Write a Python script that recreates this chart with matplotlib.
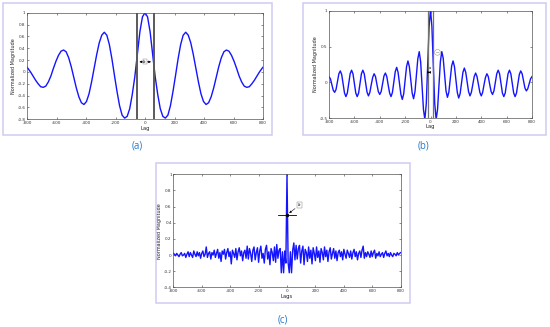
import numpy as np
import matplotlib
matplotlib.use('Agg')
import matplotlib.pyplot as plt
from matplotlib.patches import Rectangle

# ---------------- data ----------------
# panel (a): lag step 17.25
lag_idx_a = np.arange(-48, 49)
lag_step_a = 17.25
mag_a = [
    0.12, 0.11, 0.06, 0.00, -0.07, -0.14, -0.20, -0.25,
    -0.26, -0.24, -0.17, -0.07, 0.06, 0.18, 0.28, 0.35,
    0.37, 0.34, 0.24, 0.09, -0.09, -0.27, -0.42, -0.52,
    -0.55, -0.50, -0.37, -0.17, 0.06, 0.29, 0.49, 0.62,
    0.67, 0.62, 0.46, 0.22, -0.06, -0.33, -0.57, -0.73,
    -0.78, -0.75, -0.62, -0.38, -0.08, 0.30, 0.68, 0.93,
    1.00,
    0.93, 0.68, 0.30, -0.08, -0.38, -0.62, -0.75, -0.78,
    -0.73, -0.57, -0.33, -0.06, 0.22, 0.46, 0.62, 0.67,
    0.62, 0.49, 0.29, 0.06, -0.17, -0.37, -0.50, -0.55,
    -0.52, -0.42, -0.27, -0.09, 0.09, 0.24, 0.34, 0.37,
    0.35, 0.28, 0.18, 0.06, -0.07, -0.17, -0.24, -0.26,
    -0.25, -0.20, -0.14, -0.07, 0.00, 0.06, 0.11, 0.12]
markers_a = [-57, 60]
arrow_y_a = 0.17

# panel (b): 145 samples from -800 to 800
mag_b = [
    0.08, 0.05, -0.03, -0.11,
    -0.14, -0.10, 0.01, 0.12,
    0.16, 0.11, -0.02, -0.15,
    -0.20, -0.15, -0.02, 0.12,
    0.17, 0.12, -0.02, -0.15,
    -0.20, -0.15, -0.02, 0.12,
    0.17, 0.12, -0.01, -0.14,
    -0.19, -0.14, -0.03, 0.07,
    0.12, 0.08, -0.03, -0.13,
    -0.17, -0.13, -0.02, 0.09,
    0.13, 0.08, -0.04, -0.15,
    -0.20, -0.14, 0.01, 0.15,
    0.21, 0.14, -0.02, -0.17,
    -0.24, -0.16, 0.03, 0.22,
    0.30, 0.22, 0.04, -0.15,
    -0.23, -0.13, 0.10, 0.33,
    0.43, 0.29, -0.05, -0.38,
    -0.52, -0.30, 0.24, 0.78,
    1.02, 0.78, 0.24, -0.30,
    -0.52, -0.38, -0.05, 0.29,
    0.43, 0.34, 0.11, -0.12,
    -0.21, -0.14, 0.05, 0.23,
    0.30, 0.22, 0.04, -0.14,
    -0.22, -0.16, -0.01, 0.14,
    0.20, 0.14, 0.01, -0.13,
    -0.19, -0.14, -0.03, 0.08,
    0.13, 0.08, -0.03, -0.14,
    -0.19, -0.14, -0.03, 0.07,
    0.12, 0.08, -0.03, -0.13,
    -0.17, -0.12, 0.00, 0.12,
    0.17, 0.12, -0.02, -0.15,
    -0.20, -0.15, -0.02, 0.12,
    0.17, 0.12, -0.02, -0.15,
    -0.20, -0.15, -0.02, 0.11,
    0.16, 0.12, 0.02, -0.08,
    -0.12, -0.09, -0.02, 0.05,
    0.08]
markers_b = [-18, 18]
arrow_y_b = 0.14

# panel (c): 201 samples from -800 to 800 (step 8)
mag_c = [
    0.02, 0.01, -0.01, 0.02, 0.00, -0.02, 0.01, 0.03, -0.01, 0.00,
    0.02, -0.03, 0.01, 0.04, -0.02, 0.03, 0.00, -0.03, 0.05, 0.01,
    -0.02, 0.04, -0.01, 0.03, -0.04, 0.02, 0.05, -0.02, 0.01, 0.10,
    -0.03, 0.02, 0.04, -0.05, 0.03, 0.00, 0.06, -0.03, 0.02, 0.07,
    -0.04, 0.03, -0.08, 0.05, 0.01, 0.07, -0.05, 0.03, 0.08, -0.02,
    0.04, -0.11, 0.06, 0.02, -0.03, 0.08, -0.06, 0.04, 0.09, -0.01,
    0.05, -0.07, 0.03, 0.06, -0.04, 0.11, -0.05, 0.08, 0.02, -0.08,
    0.06, 0.10, -0.06, 0.03, 0.09, -0.09, 0.05, 0.11, -0.04, 0.02,
    -0.10, 0.07, 0.12, -0.05, 0.04, -0.12, 0.08, 0.03, -0.07, 0.10,
    -0.09, 0.13, -0.04, 0.06, 0.08, -0.22, 0.04, -0.22, 0.05, -0.10,
    1.00,
    -0.10, -0.22, 0.04, -0.22, 0.06, 0.15, -0.06, 0.12, -0.05, 0.08,
    0.12, -0.10, 0.05, 0.11, -0.12, 0.07, 0.03, -0.08, 0.10, -0.04,
    0.06, -0.11, 0.09, 0.02, -0.07, 0.10, -0.03, 0.05, -0.09, 0.08,
    0.03, -0.06, 0.10, -0.02, 0.06, -0.08, 0.04, 0.09, -0.05, 0.02,
    0.08, -0.04, 0.05, -0.07, 0.03, 0.06, -0.02, 0.04, -0.06, 0.07,
    0.01, -0.04, 0.06, 0.02, -0.03, 0.05, -0.05, 0.03, 0.07, -0.02,
    0.04, -0.06, 0.02, 0.05, -0.03, 0.06, 0.11, -0.04, 0.03, -0.02,
    0.04, 0.01, -0.03, 0.05, -0.02, 0.03, 0.06, -0.04, 0.02, -0.01,
    0.04, -0.02, 0.01, 0.03, -0.03, 0.02, 0.05, -0.01, 0.02, -0.02,
    0.03, 0.00, -0.02, 0.02, 0.01, -0.01, 0.03, 0.00, 0.02, 0.03]
half_c = 0.5
half_span_c = [-65, 65]

xticks = [-800, -600, -400, -200, 0, 200, 400, 600, 800]
yticks_a = [-0.8, -0.6, -0.4, -0.2, 0, 0.2, 0.4, 0.6, 0.8, 1]
yticks_b = [-0.5, 0, 0.5, 1]
yticks_c = [-0.4, -0.2, 0, 0.2, 0.4, 0.6, 0.8, 1]
panel_labels = ['(a)', '(b)', '(c)']

# ---------------- figure ----------------
W, H = 550, 327
fig = plt.figure(figsize=(5.5, 3.27), dpi=100)
fig.patch.set_facecolor('white')


def fx(px):
    return px / W


def fy(py):
    return 1 - py / H


def box(x0, y0, x1, y1):
    fig.patches.append(Rectangle((fx(x0), fy(y1)), fx(x1) - fx(x0), fy(y0) - fy(y1),
                                 transform=fig.transFigure, fill=False,
                                 ec='#cfcbf2', lw=1.1))


def make_axes(x0, y0, x1, y1):
    return fig.add_axes([fx(x0), fy(y1), fx(x1) - fx(x0), fy(y0) - fy(y1)])


def fmt(v):
    return '%g' % v


def style(ax, yt, ylim, xlabel):
    ax.set_xlim(-800, 800)
    ax.set_ylim(*ylim)
    ax.set_xticks(xticks)
    ax.set_xticklabels([fmt(v) for v in xticks])
    ax.set_yticks(yt)
    ax.set_yticklabels([fmt(v) for v in yt])
    ax.tick_params(direction='in', top=True, right=True, length=1.5, width=0.4,
                   labelsize=3, pad=1.2, colors='#333333')
    for s in ax.spines.values():
        s.set_linewidth(0.5)
        s.set_color('#555555')
    ax.set_xlabel(xlabel, fontsize=3.8, labelpad=0.5, color='#222222')
    ax.set_ylabel('Normalized Magnitude', fontsize=3.5, labelpad=1, color='#222222')


blue = '#1414ff'

# (a)
box(3, 3, 272, 135)
axa = make_axes(27, 12.7, 263, 119.3)
axa.plot(lag_idx_a * lag_step_a, mag_a, color=blue, lw=1.0)
for m in markers_a:
    axa.axvline(m, color='#5a5a5a', lw=1.4)
axa.annotate('', xy=(markers_a[0], arrow_y_a), xytext=(markers_a[1], arrow_y_a),
             arrowprops=dict(arrowstyle='<|-|>', lw=0.5, color='black', mutation_scale=3))
axa.text(0, arrow_y_a, 'Δτ', fontsize=2, ha='center', va='center',
         bbox=dict(boxstyle='square,pad=0.2', fc='white', ec='#777777', lw=0.3))
style(axa, yticks_a, (-0.8, 1), 'Lag')

# (b)
box(303, 3, 546, 135)
axb = make_axes(329, 11, 532, 118)
axb.plot(np.linspace(-800, 800, len(mag_b)), mag_b, color=blue, lw=1.0)
for m in markers_b:
    axb.axvline(m, color='#707070', lw=0.9)
axb.annotate('', xy=(markers_b[0], arrow_y_b), xytext=(markers_b[1], arrow_y_b),
             arrowprops=dict(arrowstyle='<|-|>', lw=0.5, color='black', mutation_scale=3))
axb.text(-6, arrow_y_b + 0.03, 'a', fontsize=2.5, ha='center', va='bottom')
axb.text(55, 0.42, '—', fontsize=2.5, ha='center', va='center',
         bbox=dict(boxstyle='circle,pad=0.25', fc='white', ec='#777777', lw=0.3))
style(axb, yticks_b, (-0.5, 1), 'Lag')

# (c)
box(156, 163, 410, 303)
axc = make_axes(173.3, 174.3, 400.7, 287.3)
axc.plot(np.linspace(-800, 800, len(mag_c)), mag_c, color=blue, lw=1.0)
axc.plot(half_span_c, [half_c, half_c], color='black', lw=0.6)
axc.plot([0], [half_c], marker='s', ms=1.2, color='black')
axc.annotate('Δτ', xy=(0, half_c), xytext=(90, 0.62), fontsize=2,
             ha='center', va='center',
             bbox=dict(boxstyle='square,pad=0.2', fc='white', ec='#777777', lw=0.3),
             arrowprops=dict(arrowstyle='-|>', lw=0.4, color='black', mutation_scale=3))
style(axc, yticks_c, (-0.4, 1), 'Lags')

# panel labels
label_pos = [(137, 146), (424, 146), (283, 320)]
for lab, (x, y) in zip(panel_labels, label_pos):
    fig.text(fx(x), fy(y), lab, fontsize=7, color='#2878c8', ha='center', va='center',
             family='Open Sans')

fig.savefig('out.png', dpi=100, facecolor='white')
